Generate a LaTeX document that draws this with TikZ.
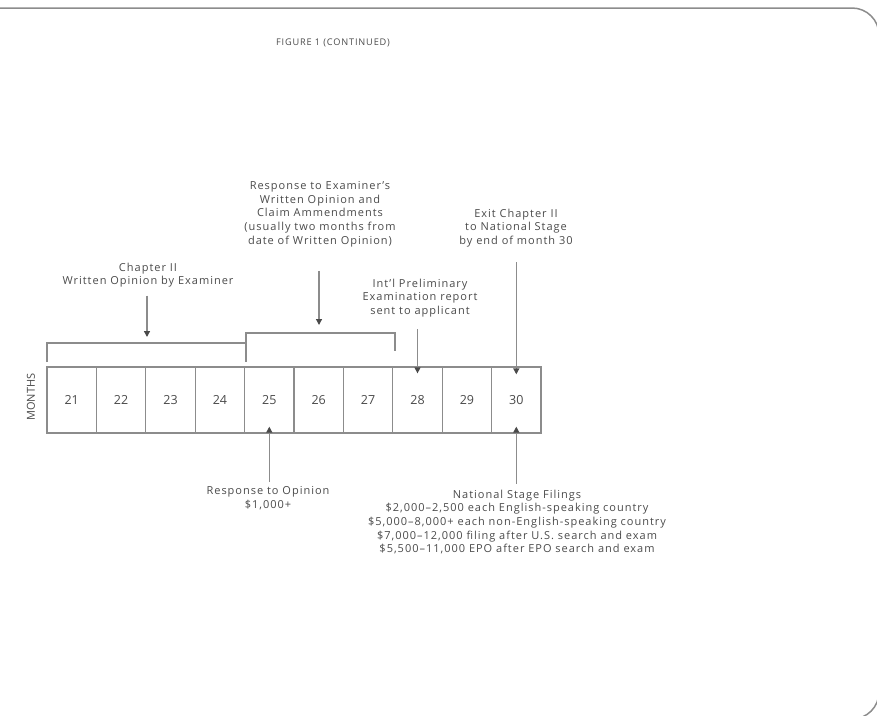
\documentclass[tikz,border=0pt]{standalone}
\usepackage{fontspec}
\setmainfont{Open Sans}
\newfontfamily\lblfont[LetterSpace=9,Ligatures=TeX]{Open Sans}
\usetikzlibrary{arrows.meta}
\definecolor{txt}{HTML}{4a4a4a}
\definecolor{ln}{HTML}{8c8c8c}
\begin{document}
\begin{tikzpicture}[x=1pt,y=-1pt,
  lbl/.style={align=center, text=txt, font=\lblfont\fontsize{11}{13.7}\selectfont, inner sep=0pt},
  month/.style={draw=ln, line width=1.3pt, minimum width=49.4pt, minimum height=66pt, inner sep=0pt, text=txt, font=\fontsize{12.5}{14}\selectfont},
  arr/.style={draw=ln, line width=1.3pt, -{Triangle[length=6pt,width=6pt,color=txt]}},
  brk/.style={draw=ln, line width=1.6pt},
]
\useasboundingbox (0,0) rectangle (877,715);
\begin{scope}
\clip (0,0) rectangle (877,715);
\draw[ln, line width=1.5pt, rounded corners=27pt] (-40,8) -- (879,8) -- (879,719) -- (-40,719);
\end{scope}

% title
\node[text=txt, font=\lblfont\fontsize{9.2}{10}\selectfont, inner sep=0pt] (title) at (333,43) {FIGURE 1 (CONTINUED)};

% months label
\node[rotate=90, text=txt, font=\fontsize{11}{12}\selectfont, inner sep=0pt] (months) at (31,397) {MONTHS};

% month boxes
\foreach \n [count=\i from 0] in {21,...,30} {
  \node[month] (m\n) at ({71.7+49.4*\i},400) {\n};
}

% brackets
\draw[brk] (47,362) -- (47,343) -- (246,343) -- (246,362);
\draw[brk] (246,360) -- (246,333) -- (395,333) -- (395,351);
\coordinate (b1) at (147,337);
\coordinate (b2) at (319,325);

% labels
\node[lbl] (ch2) at (148,275) {Chapter II\\Written Opinion by Examiner};
\node[lbl] (resp) at (320,214) {Response to Examiner’s\\Written Opinion and\\Claim Ammendments\\(usually two months from\\date of Written Opinion)};
\node[lbl] (iper) at (420,298) {Int’l Preliminary\\Examination report\\sent to applicant};
\node[lbl] (exit) at (516,228) {Exit Chapter II\\to National Stage\\by end of month 30};
\node[lbl] (ropin) at (268,498) {Response to Opinion\\\$1,000+};
\node[lbl] (nat) at (517,522) {National Stage Filings\\\$2,000–2,500 each English-speaking country\\\$5,000–8,000+ each non-English-speaking country\\\$7,000–12,000 filing after U.S. search and exam\\\$5,500–11,000 EPO after EPO search and exam};

% arrows
\draw[arr] (ch2.south -| b1) ++(0,8) -- (b1);
\draw[arr] (resp.south -| b2) ++(0,24) -- (b2);
\draw[arr] (iper.south -| m28.north) ++(0,12) -- ([yshift=-7pt]m28.north);
\draw[arr] (exit.south -| m30.north) ++(0,15) -- ([yshift=-8pt]m30.north);
\draw[arr] (ropin.north -| m25.south) ++(0,-4) -- ([yshift=7pt]m25.south);
\draw[arr] (nat.north -| m30.south) ++(0,-6) -- ([yshift=7pt]m30.south);
\end{tikzpicture}
\end{document}
